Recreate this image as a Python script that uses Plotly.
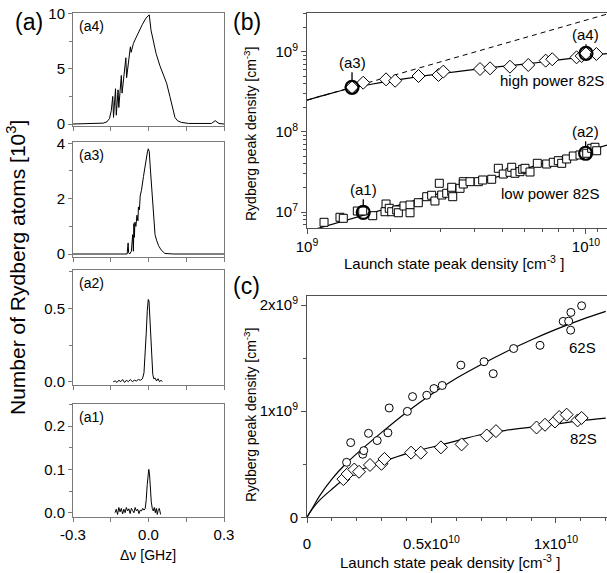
import plotly.graph_objects as go
import numpy as np

W, H = 607, 573
FONT = "Liberation Sans, Arial, Helvetica, sans-serif"

# ---------------- panel (a) spectra (x in GHz, y in 10^3 atoms) ----------------
a4_x = [-0.30, -0.25, -0.20, -0.18, -0.165, -0.155, -0.148, -0.142, -0.139, -0.131, -0.128,
        -0.121, -0.118, -0.108, -0.105, -0.090, -0.087, -0.072, -0.069, -0.060, -0.050, -0.040,
        -0.025, -0.010, 0.003, 0.010, 0.020, 0.030, 0.045, 0.060, 0.072, 0.085, 0.095, 0.105, 0.115,
        0.13, 0.16, 0.20, 0.25, 0.265, 0.27, 0.28, 0.30]
a4_y = [0.0, 0.02, 0.05, 0.08, 0.2, 0.5, 1.2, 2.5, 0.6, 3.2, 0.8, 3.1, 1.5, 4.4, 2.8, 6.0, 4.2, 7.0,
        6.5, 7.3, 7.8, 8.3, 9.0, 9.6, 9.9, 8.5, 7.3, 6.4, 5.3, 4.4, 3.7, 2.5, 1.5, 0.6, 0.3, 0.15,
        0.05, 0.02, 0.05, 0.3, 0.2, 0.05, 0.0]

a3_x = [-0.30, -0.20, -0.10, -0.085, -0.081, -0.079, -0.075, -0.068, -0.063, -0.060, -0.058, -0.056,
        -0.054, -0.050, -0.046, -0.042, -0.040, -0.036, -0.033, -0.028, -0.020, -0.012, -0.005,
        -0.001, 0.003, 0.008, 0.014, 0.020, 0.026, 0.032, 0.040, 0.050, 0.065, 0.10, 0.20, 0.30]
a3_y = [0, 0, 0, 0.0, 0.4, 0.05, 0.0, 0.1, 0.7, 0.1, 1.1, 0.6, 1.15, 1.0, 1.4, 1.2, 1.7, 1.6, 2.1,
        2.3, 2.8, 3.3, 3.65, 3.8, 3.7, 3.0, 2.2, 1.4, 0.7, 0.5, 0.3, 0.15, 0.02, 0, 0, 0]

a2_x = [-0.140, -0.132, -0.125, -0.118, -0.110, -0.103, -0.095, -0.088, -0.080, -0.072, -0.064,
        -0.056, -0.048, -0.040, -0.032, -0.024, -0.018, -0.013, -0.009, -0.005, -0.001, 0.002,
        0.005, 0.009, 0.013, 0.017, 0.021, 0.026, 0.032, 0.038, 0.044, 0.050, 0.055]
a2_y = [0.0, 0.005, -0.005, 0.01, 0.0, 0.015, -0.005, 0.01, 0.0, 0.015, 0.0, 0.01, 0.005, 0.015,
        0.01, 0.02, 0.06, 0.18, 0.33, 0.48, 0.56, 0.55, 0.45, 0.30, 0.14, 0.05, 0.02, 0.025, 0.005,
        0.02, 0.0, 0.01, 0.0]

a1_x = [-0.133, -0.128, -0.123, -0.118, -0.113, -0.108, -0.103, -0.098, -0.093, -0.088, -0.083,
        -0.078, -0.073, -0.068, -0.063, -0.058, -0.053, -0.048, -0.043, -0.038, -0.033, -0.028,
        -0.023, -0.018, -0.013, -0.009, -0.005, -0.002, 0.001, 0.004, 0.007, 0.011, 0.015, 0.019,
        0.023, 0.027, 0.031, 0.035, 0.039, 0.043, 0.048]
a1_y = [0.0, 0.008, -0.004, 0.012, 0.002, 0.01, -0.003, 0.008, 0.0, 0.012, 0.004, 0.009, -0.002,
        0.01, 0.005, 0.0, 0.012, 0.004, 0.008, -0.002, 0.006, 0.004, 0.01, 0.006, 0.01, 0.03, 0.065,
        0.092, 0.1, 0.09, 0.06, 0.025, 0.01, 0.004, 0.012, 0.0, 0.01, -0.004, 0.008, 0.01, -0.004]

a_xticks = [-0.3, 0.0, 0.3]
a_xticklabels = ["-0.3", "0.0", "0.3"]

# ---------------- panel (b) (log-log, cm^-3) ----------------
hp_x = [1.45e9, 1.59e9, 1.92e9, 2.07e9, 2.51e9, 2.96e9, 3.08e9, 4.17e9, 4.53e9, 5.34e9, 6.21e9,
        7.17e9, 7.57e9, 9.25e9, 9.65e9, 1.0e10, 1.09e10]
hp_y = [3.62e8, 4.13e8, 4.55e8, 4.37e8, 5.01e8, 5.16e8, 5.68e8, 6.13e8, 6.25e8, 6.55e8, 6.88e8,
        7.79e8, 8.11e8, 8.58e8, 8.91e8, 9.62e8, 9.44e8]

lp_x = [1.151e9, 1.313e9, 1.349e9, 1.515e9, 1.584e9, 1.720e9, 1.920e9, 1.904e9, 1.972e9, 2.012e9,
        2.097e9, 2.125e9, 2.227e9, 2.340e9, 2.340e9, 2.506e9, 2.686e9, 2.798e9, 2.875e9, 2.980e9,
        3.040e9, 3.168e9, 3.302e9, 3.329e9, 3.302e9, 3.536e9, 3.633e9, 3.633e9, 3.839e9, 4.111e9,
        4.263e9, 4.592e9, 4.851e9, 5.053e9, 5.341e9, 5.417e9, 5.566e9, 5.800e9, 5.931e9, 6.045e9,
        6.300e9, 6.692e9, 7.230e9, 7.634e9, 7.956e9, 8.183e9, 8.527e9, 9.005e9, 9.517e9, 1.006e10,
        1.048e10, 1.077e10, 1.092e10]
lp_y = [7.43e6, 8.59e6, 8.34e6, 1.029e7, 1.029e7, 8.99e6, 1.259e7, 1.008e7, 1.112e7, 1.008e7,
        1.059e7, 9.79e6, 1.189e7, 1.223e7, 9.79e6, 1.306e7, 1.553e7, 1.618e7, 1.373e7, 2.286e7,
        1.631e7, 1.714e7, 1.795e7, 1.553e7, 2.037e7, 1.977e7, 2.393e7, 2.24e7, 2.393e7, 2.393e7,
        2.512e7, 2.564e7, 3.516e7, 2.985e7, 3.134e7, 3.622e7, 3.048e7, 3.191e7, 3.42e7, 3.516e7,
        3.162e7, 4.06e7, 3.98e7, 4.18e7, 4.38e7, 4.06e7, 4.60e7, 5.01e7, 5.16e7, 5.42e7, 6.25e7,
        6.44e7, 5.83e7]

hp_fit_x = [1.0e9, 1.2e9, 1.45e9, 1.7e9, 2.0e9, 2.5e9, 3.0e9, 4.0e9, 5.0e9, 6.0e9, 7.0e9, 8.0e9,
            9.0e9, 1.0e10, 1.1e10, 1.2e10]
hp_fit_y = [2.5e8, 3.0e8, 3.55e8, 3.95e8, 4.35e8, 4.9e8, 5.35e8, 6.05e8, 6.6e8, 7.05e8, 7.5e8,
            7.95e8, 8.4e8, 8.85e8, 9.25e8, 9.6e8]
lin_x = [1.0e9, 1.2e10]
lin_y = [2.5e8, 3.0e9]
lp_fit_x = [1.0e9, 1.2e10]
lp_fit_y = [5.7e6, 6.9e7]

sel_labels = ["(a1)", "(a2)", "(a3)", "(a4)"]
sel_x = [1.591e9, 9.97e9, 1.45e9, 1.0e10]
sel_y = [9.9e6, 5.42e7, 3.62e8, 9.62e8]
sel_off = [-23, -22, -25, -19]

# ---------------- panel (c) (linear) ----------------
s62_x = [1.59e9, 1.755e9, 2.24e9, 2.28e9, 2.47e9, 2.82e9, 3.25e9, 3.30e9, 4.03e9, 4.24e9, 4.81e9,
         5.10e9, 5.43e9, 6.18e9, 7.11e9, 7.48e9, 8.30e9, 9.36e9, 10.29e9, 10.51e9, 10.60e9,
         10.59e9, 11.03e9]
s62_y = [0.518e9, 0.704e9, 0.594e9, 0.628e9, 0.791e9, 0.723e9, 0.796e9, 1.03e9, 0.998e9, 1.137e9,
         1.15e9, 1.213e9, 1.242e9, 1.434e9, 1.466e9, 1.353e9, 1.59e9, 1.62e9, 1.846e9, 1.848e9,
         1.93e9, 1.763e9, 1.993e9]
s82_x = [1.46e9, 1.63e9, 1.90e9, 2.09e9, 2.53e9, 2.99e9, 3.11e9, 4.18e9, 4.57e9, 5.38e9, 6.21e9,
         7.22e9, 7.59e9, 9.22e9, 9.56e9, 9.96e9, 10.13e9, 10.43e9, 10.87e9, 11.03e9]
s82_y = [0.360e9, 0.408e9, 0.450e9, 0.429e9, 0.493e9, 0.504e9, 0.550e9, 0.609e9, 0.609e9, 0.659e9,
         0.687e9, 0.771e9, 0.812e9, 0.846e9, 0.872e9, 0.903e9, 0.945e9, 0.967e9, 0.913e9, 0.936e9]

fit_c_x = [0, 0.25e9, 0.5e9, 1e9, 1.5e9, 2e9, 3e9, 4e9, 5e9, 6e9, 7e9, 8e9, 9e9, 10e9, 11e9, 12e9]
fit62_y = [0, 0.10e9, 0.20e9, 0.36e9, 0.49e9, 0.60e9, 0.80e9, 0.99e9, 1.16e9, 1.31e9, 1.44e9,
           1.56e9, 1.67e9, 1.77e9, 1.86e9, 1.94e9]
fit82_y = [0, 0.09e9, 0.16e9, 0.265e9, 0.36e9, 0.43e9, 0.52e9, 0.60e9, 0.66e9, 0.72e9, 0.78e9,
           0.82e9, 0.85e9, 0.88e9, 0.91e9, 0.935e9]


def dx(px):
    return px / W


def dy(py):
    return 1 - py / H


fig = go.Figure()
BLK = dict(color="black", width=1)

spectra = [(a4_x, a4_y), (a3_x, a3_y), (a2_x, a2_y), (a1_x, a1_y)]
for i, (sx, sy) in enumerate(spectra):
    n = "" if i == 0 else str(i + 1)
    fig.add_trace(go.Scatter(x=sx, y=sy, mode="lines", line=BLK, xaxis="x" + n, yaxis="y" + n,
                             showlegend=False, hoverinfo="skip"))

# panel b
fig.add_trace(go.Scatter(x=lin_x, y=lin_y, mode="lines", line=dict(color="black", width=1, dash="5px,4px"),
                         xaxis="x5", yaxis="y5", showlegend=False))
fig.add_trace(go.Scatter(x=hp_fit_x, y=hp_fit_y, mode="lines", line=dict(color="black", width=1.2, shape="spline"),
                         xaxis="x5", yaxis="y5", showlegend=False))
fig.add_trace(go.Scatter(x=lp_fit_x, y=lp_fit_y, mode="lines", line=dict(color="black", width=1.2),
                         xaxis="x5", yaxis="y5", showlegend=False))
fig.add_trace(go.Scatter(x=hp_x, y=hp_y, mode="markers", xaxis="x5", yaxis="y5", showlegend=False,
                         marker=dict(symbol="diamond", size=10, color="white", line=dict(color="black", width=1))))
fig.add_trace(go.Scatter(x=lp_x, y=lp_y, mode="markers", xaxis="x5", yaxis="y5", showlegend=False,
                         marker=dict(symbol="square", size=8, color="white", line=dict(color="black", width=1))))
fig.add_trace(go.Scatter(x=sel_x, y=sel_y, mode="markers", xaxis="x5", yaxis="y5", showlegend=False,
                         marker=dict(symbol="circle-open", size=13, color="black", line=dict(color="black", width=2.2))))

# panel c
fig.add_trace(go.Scatter(x=fit_c_x, y=fit62_y, mode="lines", line=dict(color="black", width=1.2, shape="spline"),
                         xaxis="x6", yaxis="y6", showlegend=False))
fig.add_trace(go.Scatter(x=fit_c_x, y=fit82_y, mode="lines", line=dict(color="black", width=1.2, shape="spline"),
                         xaxis="x6", yaxis="y6", showlegend=False))
fig.add_trace(go.Scatter(x=s62_x, y=s62_y, mode="markers", xaxis="x6", yaxis="y6", showlegend=False,
                         marker=dict(symbol="circle", size=8, color="white", line=dict(color="black", width=1))))
fig.add_trace(go.Scatter(x=s82_x, y=s82_y, mode="markers", xaxis="x6", yaxis="y6", showlegend=False,
                         marker=dict(symbol="diamond", size=10, color="white", line=dict(color="black", width=1))))

GRAY_A = "#7a7a7a"
GRAY_B = "#505050"
TF = dict(family=FONT, size=15, color="black")


def ax_style(col):
    return dict(showline=True, mirror=True, linecolor=col, linewidth=1, ticks="outside", ticklen=4,
                tickcolor=col, showgrid=False, zeroline=False, tickfont=TF)


# panel (a) pixel boxes: (top, bottom)
a_boxes = [(12.7, 126.0), (142.3, 257.3), (270.0, 385.0), (404.0, 517.3)]
a_yr = [[-0.18, 10.09], [-0.119, 4.036], [-0.0225, 0.761], [-0.0106, 0.251]]
a_dt = [5, 2, 0.5, 0.1]
a_fmt = ["d", "d", ".1f", ".1f"]
layout = dict(width=W, height=H, margin=dict(l=0, r=0, t=0, b=0, autoexpand=False),
              plot_bgcolor="white", paper_bgcolor="white", font=dict(family=FONT, color="black"))
for i in range(4):
    n = "" if i == 0 else str(i + 1)
    top, bot = a_boxes[i]
    xa = ax_style(GRAY_A)
    xa.update(domain=[dx(73), dx(224)], range=[-0.3, 0.3], anchor="y" + n,
              tickvals=a_xticks, ticktext=a_xticklabels, showticklabels=(i == 3),
              minor=dict(dtick=0.15, tick0=0, ticks="outside", ticklen=4, tickcolor=GRAY_A))
    ya = ax_style(GRAY_A)
    ya.update(domain=[dy(bot), dy(top)], range=a_yr[i], anchor="x" + n, dtick=a_dt[i], tick0=0,
              tickformat=a_fmt[i],
              minor=dict(dtick=a_dt[i] / 2, ticks="outside", ticklen=3, tickcolor=GRAY_A))
    layout["xaxis" + n] = xa
    layout["yaxis" + n] = ya

# panel (b)
xb = ax_style(GRAY_B)
xb.update(type="log", domain=[dx(307), 1.0], range=[9, 10.0753], anchor="y5",
          tickvals=[1e9, 1e10], ticktext=["10<sup>9</sup>", "10<sup>10</sup>"], ticklen=5,
          minor=dict(tickvals=[m * 1e9 for m in range(2, 10)] + [1.1e10], ticks="outside", ticklen=3,
                     tickcolor=GRAY_B))
yb = ax_style(GRAY_B)
yb.update(type="log", domain=[dy(228), dy(12.7)], range=[6.8, 9.491], anchor="x5",
          tickvals=[1e7, 1e8, 1e9], ticktext=["10<sup>7</sup>", "10<sup>8</sup>", "10<sup>9</sup>"], ticklen=5,
          minor=dict(tickvals=[m * 10 ** e for e in (6, 7, 8, 9) for m in range(2, 10)], ticks="outside",
                     ticklen=3, tickcolor=GRAY_B))
layout["xaxis5"] = xb
layout["yaxis5"] = yb

# panel (c)
xc = ax_style(GRAY_B)
xc.update(domain=[dx(307), 1.0], range=[0, 12.05e9], anchor="y6", ticklabelstandoff=8,
          tickvals=[0, 0.5e10, 1e10], ticktext=["0", "0.5x10<sup>10</sup>", "1x10<sup>10</sup>"], ticklen=5,
          minor=dict(dtick=1e9, tick0=0, ticks="outside", ticklen=3, tickcolor=GRAY_B))
yc = ax_style(GRAY_B)
yc.update(domain=[dy(517.3), dy(296)], range=[0, 2.085e9], anchor="x6",
          tickvals=[0, 1e9, 2e9], ticktext=["0", "1x10<sup>9</sup>", "2x10<sup>9</sup>"], ticklen=5,
          minor=dict(dtick=0.5e9, tick0=0, ticks="outside", ticklen=3, tickcolor=GRAY_B))
layout["xaxis6"] = xc
layout["yaxis6"] = yc

fig.update_layout(**layout)


def ptext(px, py, text, size=15, angle=0):
    fig.add_annotation(x=dx(px), y=dy(py), xref="paper", yref="paper", text=text, showarrow=False,
                       xanchor="center", yanchor="middle", textangle=angle,
                       font=dict(family=FONT, size=size, color="black"))


ptext(29, 22, "(a)", 23)
ptext(247, 22, "(b)", 23)
ptext(246, 286, "(c)", 23)
ptext(16, 268, "Number of Rydberg atoms [10<sup>3</sup>]", 21, -90)
ptext(147.5, 555, "Δν [GHz]", 14)
for lab, (top, bot) in zip(["(a4)", "(a3)", "(a2)", "(a1)"], a_boxes):
    ptext(91, top + 13, lab, 14)
ptext(250, 134, "Rydberg peak density [cm<sup>-3</sup>]", 14, -90)
ptext(454, 262, "Launch state peak density [cm<sup>-3</sup> ]", 15)
ptext(250, 415, "Rydberg peak density [cm<sup>-3</sup>]", 14, -90)
ptext(450, 561, "Launch state peak density [cm<sup>-3</sup> ]", 15)
ptext(552, 80, "high power 82S", 15)
ptext(550, 193, "low power 82S", 15)
ptext(582, 347, "62S", 15)
ptext(583, 438, "82S", 15)

for lab, sx, sy, off in zip(sel_labels, sel_x, sel_y, sel_off):
    fig.add_annotation(x=np.log10(sx), y=np.log10(sy), xref="x5", yref="y5", text=lab, showarrow=True,
                       arrowhead=0, arrowwidth=1.3, arrowcolor="black", ax=0, ay=off, standoff=7,
                       font=dict(family=FONT, size=15, color="black"))

fig.write_html("out.html", config={"displayModeBar": False},
               post_script="document.body.style.margin='0';document.body.style.overflow='hidden';")
